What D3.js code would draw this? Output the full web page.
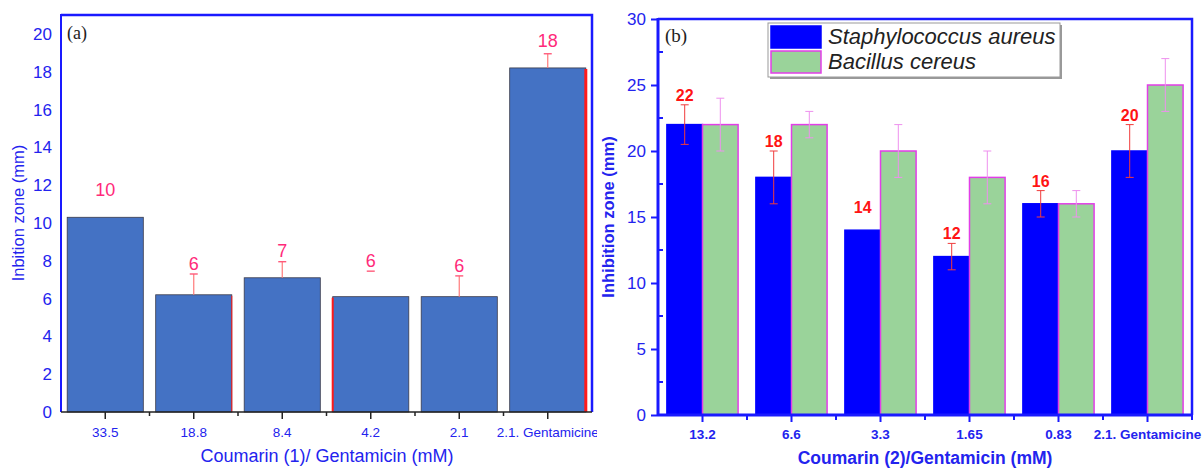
<!DOCTYPE html>
<html>
<head>
<meta charset="utf-8">
<script src="https://cdn.jsdelivr.net/npm/d3@7"></script>
<style>
  body { margin: 0; background: #fff; }
  svg { display: block; font-family: "Liberation Sans", Arial, sans-serif; }
</style>
</head>
<body>
<svg id="chart" width="1204" height="469"></svg>
<script>
// ---- data, panel (a) ----
const catsA = ["33.5", "18.8", "8.4", "4.2", "2.1", "2.1. Gentamicine"];
const valuesA = [10.3, 6.2, 7.1, 6.1, 6.1, 18.2];
const errA = [0, 1.1, 0.85, 1.35, 1.1, 0.75];
const labelsA = ["10", "6", "7", "6", "6", "18"];
const ticksA = [0, 2, 4, 6, 8, 10, 12, 14, 16, 18, 20];

// ---- data, panel (b) ----
const catsB = ["13.2", "6.6", "3.3", "1.65", "0.83", "2.1. Gentamicine"];
const seriesB = ["Staphylococcus aureus", "Bacillus cereus"];
const staphVals = [22, 18, 14, 12, 16, 20];
const staphErr = [1.5, 2, 0, 1, 1, 2];
const bacVals = [22, 22, 20, 18, 16, 25];
const bacErr = [2, 1, 2, 2, 1, 2];
const labelsB = ["22", "18", "14", "12", "16", "20"];
const ticksB = [0, 5, 10, 15, 20, 25, 30];

const svg = d3.select("#chart");
const blue = "#2323ee";

// ================= panel (a) =================
const a = {left: 61, right: 592, top: 15, bottom: 412};

const xA = d3.scaleBand().domain(catsA).range([a.left, a.right])
    .paddingInner(0.14).paddingOuter(0.07);
const yA = d3.scaleLinear().domain([0, 21]).range([a.bottom, a.top]);

const gA = svg.append("g");
const rowsA = catsA.map((c, i) => ({cat: c, v: valuesA[i], e: errA[i], lab: labelsA[i], i: i}));
const midA = d => xA(d.cat) + xA.bandwidth() / 2;

// bars
gA.selectAll(".barA").data(rowsA).join("rect")
    .attr("class", "barA")
    .attr("x", d => xA(d.cat))
    .attr("y", d => yA(d.v))
    .attr("width", xA.bandwidth())
    .attr("height", d => yA(0) - yA(d.v))
    .attr("fill", "#4472c4")
    .attr("stroke", "#3a3a4a")
    .attr("stroke-width", 0.8);

// red edge strokes visible on some bars
const redEdges = [{i: 1, side: "r", w: 1}, {i: 3, side: "l", w: 2}, {i: 5, side: "r", w: 3}];
gA.selectAll(".edge").data(redEdges).join("line")
    .attr("x1", d => d.side == "r" ? xA(catsA[d.i]) + xA.bandwidth() : xA(catsA[d.i]))
    .attr("x2", d => d.side == "r" ? xA(catsA[d.i]) + xA.bandwidth() : xA(catsA[d.i]))
    .attr("y1", d => yA(valuesA[d.i]) + 1)
    .attr("y2", yA(0))
    .attr("stroke", "#ff1a1a")
    .attr("stroke-width", d => d.w);

// error bars (upper half only; the 4.2 bar only shows its cap)
const errRowsA = rowsA.filter(d => d.e > 0);
gA.selectAll(".errA").data(errRowsA.filter(d => d.i != 3)).join("line")
    .attr("x1", midA).attr("x2", midA)
    .attr("y1", d => yA(d.v))
    .attr("y2", d => yA(d.v + d.e))
    .attr("stroke", "#ff7a7a").attr("stroke-width", 1.2);
gA.selectAll(".capA").data(errRowsA).join("line")
    .attr("x1", d => midA(d) - 4).attr("x2", d => midA(d) + 4)
    .attr("y1", d => yA(d.v + d.e))
    .attr("y2", d => yA(d.v + d.e))
    .attr("stroke", "#ff5a7a").attr("stroke-width", 1.4);

// value labels
gA.selectAll(".labA").data(rowsA).join("text")
    .attr("x", midA)
    .attr("y", d => yA(Math.max(d.v + d.e, d.v + 0.9)) - 4)
    .attr("text-anchor", "middle")
    .attr("font-size", 18)
    .attr("fill", "#ff2a7a")
    .text(d => d.lab);

// frame: top + right blue
gA.append("path")
    .attr("d", `M${a.left},${a.top}H${a.right}V${a.bottom}`)
    .attr("fill", "none").attr("stroke", "#1a1aff").attr("stroke-width", 2.5);
gA.append("line")
    .attr("x1", a.left).attr("x2", a.left).attr("y1", a.top - 1).attr("y2", a.bottom)
    .attr("stroke", "#1a1aff").attr("stroke-width", 2);

// x axis (dark line, ticks at centres, minor between)
gA.append("line")
    .attr("x1", a.left).attr("x2", a.right).attr("y1", a.bottom).attr("y2", a.bottom)
    .attr("stroke", "#222").attr("stroke-width", 1.5);
gA.selectAll(".tkA").data(rowsA).join("line")
    .attr("x1", midA).attr("x2", midA)
    .attr("y1", a.bottom).attr("y2", a.bottom + 7)
    .attr("stroke", "#222").attr("stroke-width", 1.5);
gA.selectAll(".mtkA").data(rowsA.slice(1)).join("line")
    .attr("x1", d => midA(d) - xA.step() / 2)
    .attr("x2", d => midA(d) - xA.step() / 2)
    .attr("y1", a.bottom).attr("y2", a.bottom + 4)
    .attr("stroke", "#222").attr("stroke-width", 1.5);
gA.selectAll(".xlA").data(rowsA).join("text")
    .attr("x", midA)
    .attr("y", 437)
    .attr("text-anchor", "middle")
    .attr("font-size", 13.5)
    .attr("fill", blue)
    .text(d => d.cat);

// y tick labels (no tick marks)
gA.selectAll(".ylA").data(ticksA).join("text")
    .attr("x", 52)
    .attr("y", d => yA(d) + 6)
    .attr("text-anchor", "end")
    .attr("font-size", 17)
    .attr("fill", blue)
    .text(d => d);

gA.append("text")
    .attr("transform", `translate(24,${213}) rotate(-90)`)
    .attr("text-anchor", "middle")
    .attr("font-size", 16.5)
    .attr("fill", blue)
    .text("Inbition zone (mm)");
gA.append("text")
    .attr("x", 327).attr("y", 462)
    .attr("text-anchor", "middle")
    .attr("font-size", 18)
    .attr("fill", blue)
    .text("Coumarin (1)/ Gentamicin (mM)");
gA.append("text")
    .attr("x", 67).attr("y", 39)
    .attr("font-family", "Liberation Serif, serif")
    .attr("font-size", 18)
    .attr("fill", "#222")
    .text("(a)");

// ================= panel (b) =================
svg.append("rect").attr("x", 597).attr("y", 0).attr("width", 607).attr("height", 469).attr("fill", "#fff");

const b = {left: 658, right: 1192, top: 19, bottom: 415};

const xB = d3.scaleBand().domain(catsB).range([b.left, b.right])
    .paddingInner(0.2).paddingOuter(0.1);
const xSub = d3.scaleBand().domain(seriesB).range([0, xB.bandwidth()]);
const yB = d3.scaleLinear().domain([0, 30]).range([b.bottom, b.top]);
const colB = d3.scaleOrdinal().domain(seriesB).range(["#0000ff", "#9ad39a"]);
const strokeB = d3.scaleOrdinal().domain(seriesB).range(["#0000ff", "#e23ee8"]);

const gB = svg.append("g");

const rows = catsB.map((c, i) => [
  {cat: c, s: seriesB[0], v: staphVals[i], e: staphErr[i], lab: labelsB[i]},
  {cat: c, s: seriesB[1], v: bacVals[i], e: bacErr[i]}
]).flat();

gB.selectAll(".barB").data(rows).join("rect")
    .attr("x", d => xB(d.cat) + xSub(d.s))
    .attr("y", d => yB(d.v))
    .attr("width", xSub.bandwidth())
    .attr("height", d => yB(0) - yB(d.v))
    .attr("fill", d => colB(d.s))
    .attr("stroke", d => strokeB(d.s))
    .attr("stroke-width", 1.5);

// error bars
const errB = rows.filter(d => d.e > 0);
const cx = d => xB(d.cat) + xSub(d.s) + xSub.bandwidth() / 2;
const errCol = d => d.s == seriesB[0] ? "#f03c3c" : "#ee90ee";
gB.selectAll(".eb").data(errB).join("line")
    .attr("x1", cx).attr("x2", cx)
    .attr("y1", d => yB(d.v - d.e)).attr("y2", d => yB(d.v + d.e))
    .attr("stroke", errCol).attr("stroke-width", 1);
gB.selectAll(".ebt").data(errB).join("line")
    .attr("x1", d => cx(d) - 4).attr("x2", d => cx(d) + 4)
    .attr("y1", d => yB(d.v + d.e)).attr("y2", d => yB(d.v + d.e))
    .attr("stroke", errCol).attr("stroke-width", 1);
gB.selectAll(".ebb").data(errB).join("line")
    .attr("x1", d => cx(d) - 4).attr("x2", d => cx(d) + 4)
    .attr("y1", d => yB(d.v - d.e)).attr("y2", d => yB(d.v - d.e))
    .attr("stroke", errCol).attr("stroke-width", 1);

// value labels over the S. aureus bars
gB.selectAll(".labB").data(rows.filter(d => d.s == seriesB[0])).join("text")
    .attr("x", cx)
    .attr("y", d => yB(Math.max(d.v + d.e, d.v + 1)) - 4)
    .attr("text-anchor", "middle")
    .attr("font-size", 16)
    .attr("font-weight", "bold")
    .attr("fill", "#ff1414")
    .text(d => d.lab);

// frame
gB.append("path")
    .attr("d", `M${b.left},${b.top}H${b.right}V${b.bottom}`)
    .attr("fill", "none").attr("stroke", "#1a1aff").attr("stroke-width", 2.5);
gB.append("line")
    .attr("x1", b.left).attr("x2", b.left).attr("y1", b.top - 1).attr("y2", b.bottom + 1)
    .attr("stroke", "#1a1aff").attr("stroke-width", 3);
gB.append("line")
    .attr("x1", b.left).attr("x2", b.right).attr("y1", b.bottom).attr("y2", b.bottom)
    .attr("stroke", "#1a1aff").attr("stroke-width", 3);

// y axis ticks
const yAxisB = d3.axisLeft(yB).tickValues(ticksB).tickSize(7).tickPadding(5);
const yg = gB.append("g").attr("transform", `translate(${b.left},0)`).call(yAxisB);
yg.select(".domain").remove();
yg.selectAll("line").attr("stroke", "#1a1aff").attr("stroke-width", 2);
yg.selectAll("text").attr("font-size", 17).attr("fill", blue)
    .attr("font-family", "Liberation Sans, Arial, sans-serif");
gB.selectAll(".myB").data(ticksB.slice(0, -1)).join("line")
    .attr("x1", b.left).attr("x2", b.left + 5)
    .attr("y1", d => yB(d + 2.5)).attr("y2", d => yB(d + 2.5))
    .attr("stroke", "#1a1aff").attr("stroke-width", 2);

// x axis ticks
gB.selectAll(".tkB").data(catsB).join("line")
    .attr("x1", d => xB(d) + xB.bandwidth() / 2).attr("x2", d => xB(d) + xB.bandwidth() / 2)
    .attr("y1", b.bottom).attr("y2", b.bottom + 7)
    .attr("stroke", "#1a1aff").attr("stroke-width", 2);
gB.selectAll(".mtkB").data(catsB).join("line")
    .attr("x1", d => xB(d) + xB.bandwidth() / 2 + xB.step() / 2)
    .attr("x2", d => xB(d) + xB.bandwidth() / 2 + xB.step() / 2)
    .attr("y1", b.bottom).attr("y2", b.bottom + 5)
    .attr("stroke", "#1a1aff").attr("stroke-width", 2);
gB.selectAll(".xlB").data(catsB).join("text")
    .attr("x", d => xB(d) + xB.bandwidth() / 2)
    .attr("y", 439)
    .attr("text-anchor", "middle")
    .attr("font-size", 13.5)
    .attr("font-weight", "bold")
    .attr("fill", blue)
    .text(d => d);

gB.append("text")
    .attr("transform", `translate(614,${217}) rotate(-90)`)
    .attr("text-anchor", "middle")
    .attr("font-size", 16.5)
    .attr("font-weight", "bold")
    .attr("fill", blue)
    .text("Inhibition zone (mm)");
gB.append("text")
    .attr("x", 925).attr("y", 464)
    .attr("text-anchor", "middle")
    .attr("font-size", 17.5)
    .attr("font-weight", "bold")
    .attr("fill", blue)
    .text("Coumarin (2)/Gentamicin (mM)");
gB.append("text")
    .attr("x", 665).attr("y", 42)
    .attr("font-family", "Liberation Serif, serif")
    .attr("font-size", 19)
    .attr("fill", "#222")
    .text("(b)");

// legend
const lg = gB.append("g").attr("transform", "translate(768,23)");
lg.append("rect").attr("x", 2).attr("y", 2).attr("width", 292).attr("height", 54).attr("fill", "#999");
lg.append("rect").attr("width", 292).attr("height", 54).attr("fill", "#fff").attr("stroke", "#999").attr("stroke-width", 1);
seriesB.forEach((s, i) => {
  lg.append("rect").attr("x", 3).attr("y", 3 + i * 25).attr("width", 50).attr("height", 22)
      .attr("fill", colB(s)).attr("stroke", strokeB(s)).attr("stroke-width", 1.5);
  lg.append("text").attr("x", 60).attr("y", 21 + i * 25)
      .attr("font-size", 22).attr("font-style", "italic").attr("fill", "#222")
      .text(s);
});
</script>
</body>
</html>
